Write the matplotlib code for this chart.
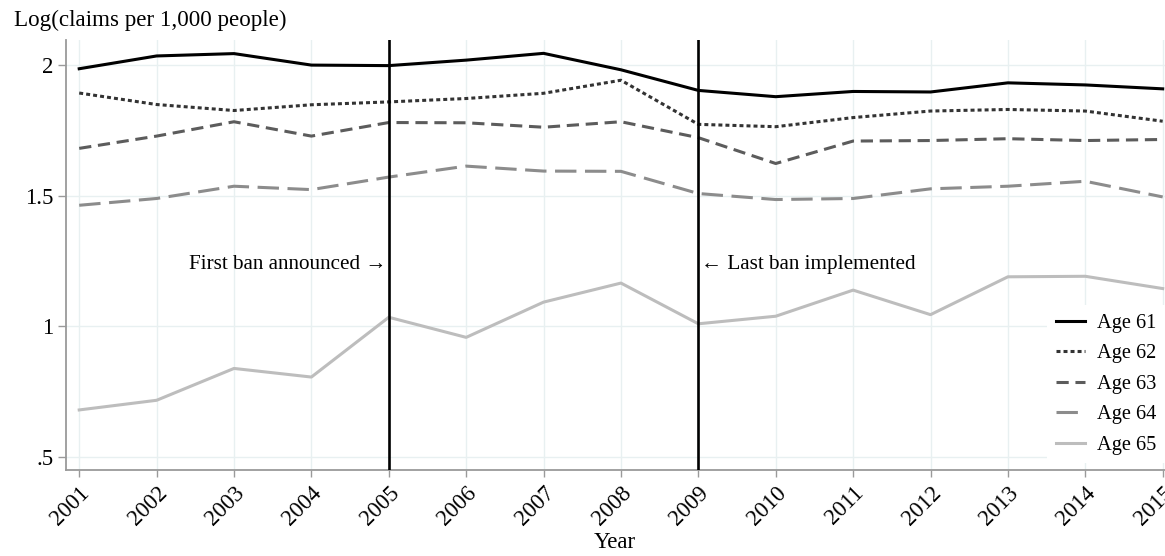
import matplotlib
matplotlib.use("Agg")
import matplotlib.pyplot as plt

years = list(range(2001, 2016))
age61 = [1.987, 2.036, 2.045, 2.001, 1.999, 2.020, 2.046, 1.983, 1.904, 1.880, 1.900, 1.898, 1.933, 1.925, 1.910]
age62 = [1.894, 1.850, 1.827, 1.849, 1.860, 1.873, 1.893, 1.943, 1.774, 1.765, 1.800, 1.825, 1.831, 1.825, 1.786]
age63 = [1.682, 1.729, 1.784, 1.729, 1.781, 1.780, 1.763, 1.784, 1.723, 1.624, 1.710, 1.712, 1.719, 1.712, 1.716]
age64 = [1.464, 1.490, 1.537, 1.524, 1.572, 1.614, 1.595, 1.594, 1.509, 1.486, 1.490, 1.527, 1.537, 1.556, 1.496]
age65 = [0.680, 0.717, 0.839, 0.806, 1.035, 0.958, 1.093, 1.166, 1.010, 1.039, 1.139, 1.045, 1.190, 1.192, 1.145]

series_labels = ["Age 61", "Age 62", "Age 63", "Age 64", "Age 65"]
y_ticks = [0.5, 1.0, 1.5, 2.0]
y_tick_labels = [".5", "1", "1.5", "2"]
event_years = [2005, 2009]
event_texts = ["First ban announced \u2192", "\u2190 Last ban implemented"]

serif = ["Liberation Serif", "DejaVu Serif"]
plt.rcParams["font.family"] = serif

fig = plt.figure(figsize=(11.65, 5.56), dpi=100)
ax = fig.add_axes([0.0567, 0.1547, 0.9433, 0.7733])

lw = 2.2
styles = [
    dict(color="#000000", linestyle="-"),
    dict(color="#333333", linestyle=(0, (1.3, 1.0))),
    dict(color="#5c5c5c", linestyle=(0, (4.0, 2.2))),
    dict(color="#8c8c8c", linestyle=(0, (7.0, 2.8))),
    dict(color="#bdbdbd", linestyle="-"),
]
for vals, lab, st in zip([age61, age62, age63, age64, age65], series_labels, styles):
    ax.plot(years, vals, linewidth=lw, label=lab, zorder=3, **st)

for yr in event_years:
    ax.axvline(yr, color="black", linewidth=1.9, zorder=4)

ax.text(event_years[0] - 0.03, 1.237, event_texts[0], ha="right", va="center", fontsize=15.2)
ax.text(event_years[1] + 0.03, 1.237, event_texts[1], ha="left", va="center", fontsize=15.2)

ax.set_xlim(2000.83, 2015.03)
ax.set_ylim(0.45, 2.097)
ax.set_xticks(years)
ax.set_xticklabels([str(y) for y in years], rotation=45, ha="right", rotation_mode="anchor")
ax.set_yticks(y_ticks)
ax.set_yticklabels(y_tick_labels)

ax.grid(True, color="#e8f0f1", linewidth=1.0, zorder=0)
ax.set_axisbelow(True)
for side in ["top", "right"]:
    ax.spines[side].set_visible(False)
for side in ["left", "bottom"]:
    ax.spines[side].set_color("#9a9a9a")
    ax.spines[side].set_linewidth(1.3)
ax.tick_params(axis="y", length=6, width=1.0, color="#9a9a9a", labelsize=16.5, pad=3)
ax.tick_params(axis="x", length=5, width=1.0, color="#9a9a9a", labelsize=16.5, pad=4)

fig.text(0.012, 0.963, "Log(claims per 1,000 people)", ha="left", va="center", fontsize=16.6)
fig.text(0.528, 0.024, "Year", ha="center", va="center", fontsize=16.5)

leg = ax.legend(loc="lower right", bbox_to_anchor=(1.0, 0.016), borderaxespad=0,
                fontsize=14.7, frameon=True, fancybox=False, handlelength=1.45,
                handletextpad=0.6, labelspacing=0.55, borderpad=0.4)
leg.get_frame().set_edgecolor("none")
leg.get_frame().set_facecolor("white")
leg.get_frame().set_alpha(1.0)
leg.set_zorder(5)

fig.savefig("out.png", dpi=100)
